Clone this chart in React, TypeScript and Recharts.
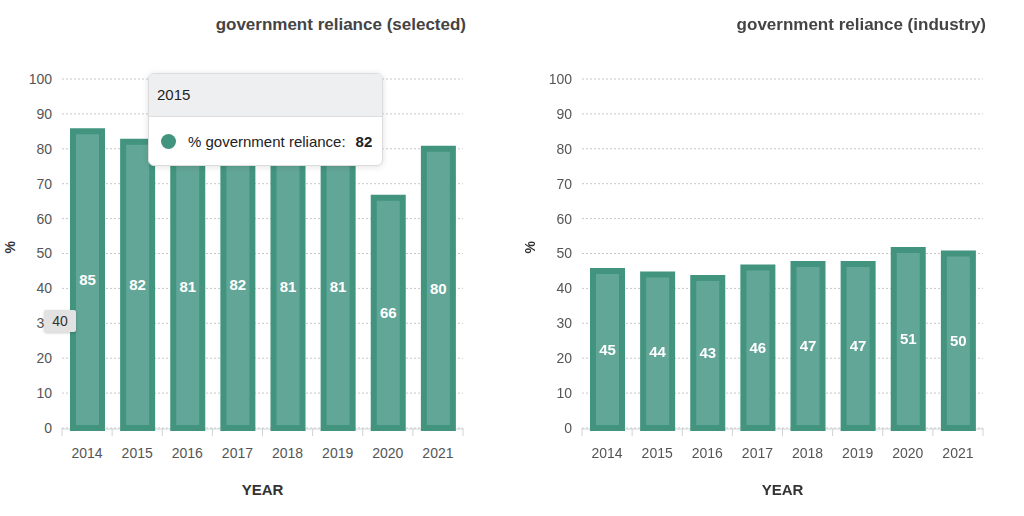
import { BarChart, Bar, XAxis, YAxis, CartesianGrid, Tooltip, LabelList } from 'recharts';

const years = ['2014', '2015', '2016', '2017', '2018', '2019', '2020', '2021'];
const selectedValues = [85, 82, 81, 82, 81, 81, 66, 80];
const industryValues = [45, 44, 43, 46, 47, 47, 51, 50];
const yTicks = [0, 10, 20, 30, 40, 50, 60, 70, 80, 90, 100];

const FONT = 'Arial, "Liberation Sans", Helvetica, sans-serif';
const BORDER = '#42947f';
const FILL = '#62a698';
const BAND = 401 / 8;

const GovTooltip = ({ payload, label }: { payload?: Array<{ value: number }>; label?: string }) => {
  if (!payload || !payload.length) return null;
  return (
    <div
      style={{
        width: 233,
        background: '#fff',
        border: '1px solid #dcdcdc',
        borderRadius: 6,
        boxShadow: '0 1px 6px rgba(0,0,0,0.12)',
        fontFamily: FONT,
        fontSize: 15,
        color: '#222',
        overflow: 'hidden',
      }}
    >
      <div style={{ background: '#eeeff1', height: 42, lineHeight: '42px', paddingLeft: 8, borderBottom: '1px solid #dedede' }}>
        {label}
      </div>
      <div style={{ height: 48, display: 'flex', alignItems: 'center', paddingLeft: 12 }}>
        <span style={{ width: 15, height: 15, borderRadius: '50%', background: BORDER, display: 'inline-block', marginRight: 12 }} />
        <span>% government reliance:</span>
        <span style={{ fontWeight: 'bold', marginLeft: 10 }}>{payload[0].value}</span>
      </div>
    </div>
  );
};

const YearTick = (props: any) => {
  const { x, y, payload, index } = props;
  return (
    <g>
      <line x1={x - BAND / 2} x2={x - BAND / 2} y1={y} y2={y + 8} stroke="#cfd2d6" />
      {index === years.length - 1 && <line x1={x + BAND / 2} x2={x + BAND / 2} y1={y} y2={y + 8} stroke="#cfd2d6" />}
      <text x={x} y={y + 30} textAnchor="middle" fill="#555" fontSize={14} fontFamily={FONT}>
        {payload.value}
      </text>
    </g>
  );
};

function RelianceChart({ title, values, showTip }: { title: string; values: number[]; showTip?: boolean }) {
  const data = years.map((year, i) => ({ year, value: values[i] }));
  return (
    <div style={{ position: 'relative', width: 512, height: 516 }}>
      <div
        style={{
          position: 'absolute',
          right: 512 - 466,
          top: 15,
          fontFamily: FONT,
          fontWeight: 'bold',
          fontSize: 17,
          color: '#444',
          whiteSpace: 'nowrap',
        }}
      >
        {title}
      </div>
      <BarChart width={512} height={516} data={data} margin={{ top: 79, right: 49, left: 0, bottom: 0 }}>
        <CartesianGrid vertical={false} stroke="#c8c8c8" strokeDasharray="2 2" />
        {/* solid baseline kept under the bars */}
        <CartesianGrid vertical={false} horizontalPoints={[429]} stroke="#cfd2d6" />
        <XAxis
          dataKey="year"
          height={88}
          tickSize={0}
          tickMargin={0}
          tick={<YearTick />}
          axisLine={false}
          tickLine={false}
          interval={0}
          label={{ value: 'YEAR', position: 'insideBottom', offset: 21, fill: '#333', fontWeight: 'bold', fontSize: 15, fontFamily: FONT }}
        />
        <YAxis
          width={62}
          domain={[0, 100]}
          ticks={yTicks}
          tickSize={0}
          tickMargin={10}
          axisLine={false}
          tickLine={false}
          tick={{ fill: '#555', fontSize: 14, fontFamily: FONT }}
          label={{ value: '%', angle: -90, position: 'insideLeft', offset: 10, fill: '#333', fontWeight: 'bold', fontSize: 14, fontFamily: FONT }}
        />
        {showTip && (
          <Tooltip
            active
            defaultIndex={1}
            cursor={false}
            isAnimationActive={false}
            position={{ x: 148, y: 73 }}
            content={<GovTooltip />}
          />
        )}
        <Bar dataKey="value" barSize={29} fill={FILL} stroke={BORDER} strokeWidth={6} isAnimationActive={false}>
          <LabelList dataKey="value" position="center" fill="#fff" fontWeight="bold" fontSize={15} fontFamily={FONT} />
        </Bar>
      </BarChart>
      {showTip && (
        <div
          style={{
            position: 'absolute',
            left: 44,
            top: 310,
            width: 32,
            height: 22,
            lineHeight: '22px',
            textAlign: 'center',
            background: '#e2e2e2',
            boxShadow: '0 1px 3px rgba(0,0,0,0.2)',
            borderRadius: 2,
            fontFamily: FONT,
            fontSize: 14,
            color: '#333',
          }}
        >
          40
        </div>
      )}
    </div>
  );
}

export default function App() {
  return (
    <div style={{ position: 'fixed', left: 0, top: 0, width: 1024, height: 516, background: '#fff', display: 'flex', gap: 8 }}>
      <RelianceChart title="government reliance (selected)" values={selectedValues} showTip />
      <RelianceChart title="government reliance (industry)" values={industryValues} />
    </div>
  );
}
